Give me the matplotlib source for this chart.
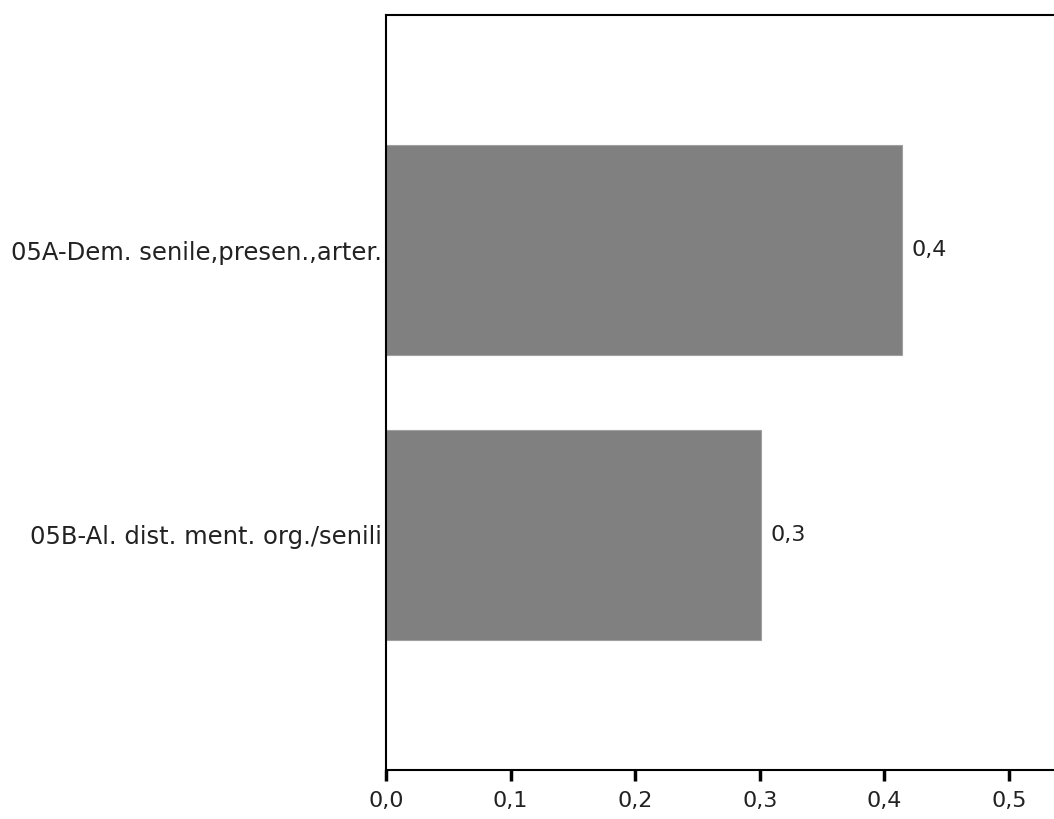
import matplotlib
matplotlib.use("Agg")
import matplotlib.pyplot as plt
import numpy as np

categories = ["05A-Dem. senile,presen.,arter.", "05B-Al. dist. ment. org./senili"]
values = [0.414, 0.301]
value_labels = ["0,4", "0,3"]
xticks = [0.0, 0.1, 0.2, 0.3, 0.4, 0.5]
xtick_labels = ["0,0", "0,1", "0,2", "0,3", "0,4", "0,5"]

plt.rcParams["font.family"] = ["DejaVu Sans"]

fig = plt.figure(figsize=(10.54, 8.19), dpi=100)
ax = fig.add_axes([0.3662, 0.0598, 0.6502, 0.9219])

y = np.arange(len(categories))
ax.barh(y, values, height=0.737, color="#808080", edgecolor="#a0a0a0", linewidth=0.8)
for yi, v, lab in zip(y, values, value_labels):
    ax.text(v + 0.008, yi, lab, va="center", ha="left", fontsize=16, color="#222222")

ax.set_xlim(0, 0.55)
ax.set_ylim(1.825, -0.825)
ax.set_yticks(y)
ax.set_yticklabels(categories, fontsize=17.5, color="#222222")
ax.set_xticks(xticks)
ax.set_xticklabels(xtick_labels, fontsize=16, color="#222222")
ax.tick_params(axis="y", length=0, pad=3)
ax.tick_params(axis="x", direction="out", length=8, width=2.5, pad=7)
for s in ["left", "bottom", "top"]:
    ax.spines[s].set_linewidth(1.5)
ax.spines["right"].set_visible(False)

fig.savefig("out.png", dpi=100)
